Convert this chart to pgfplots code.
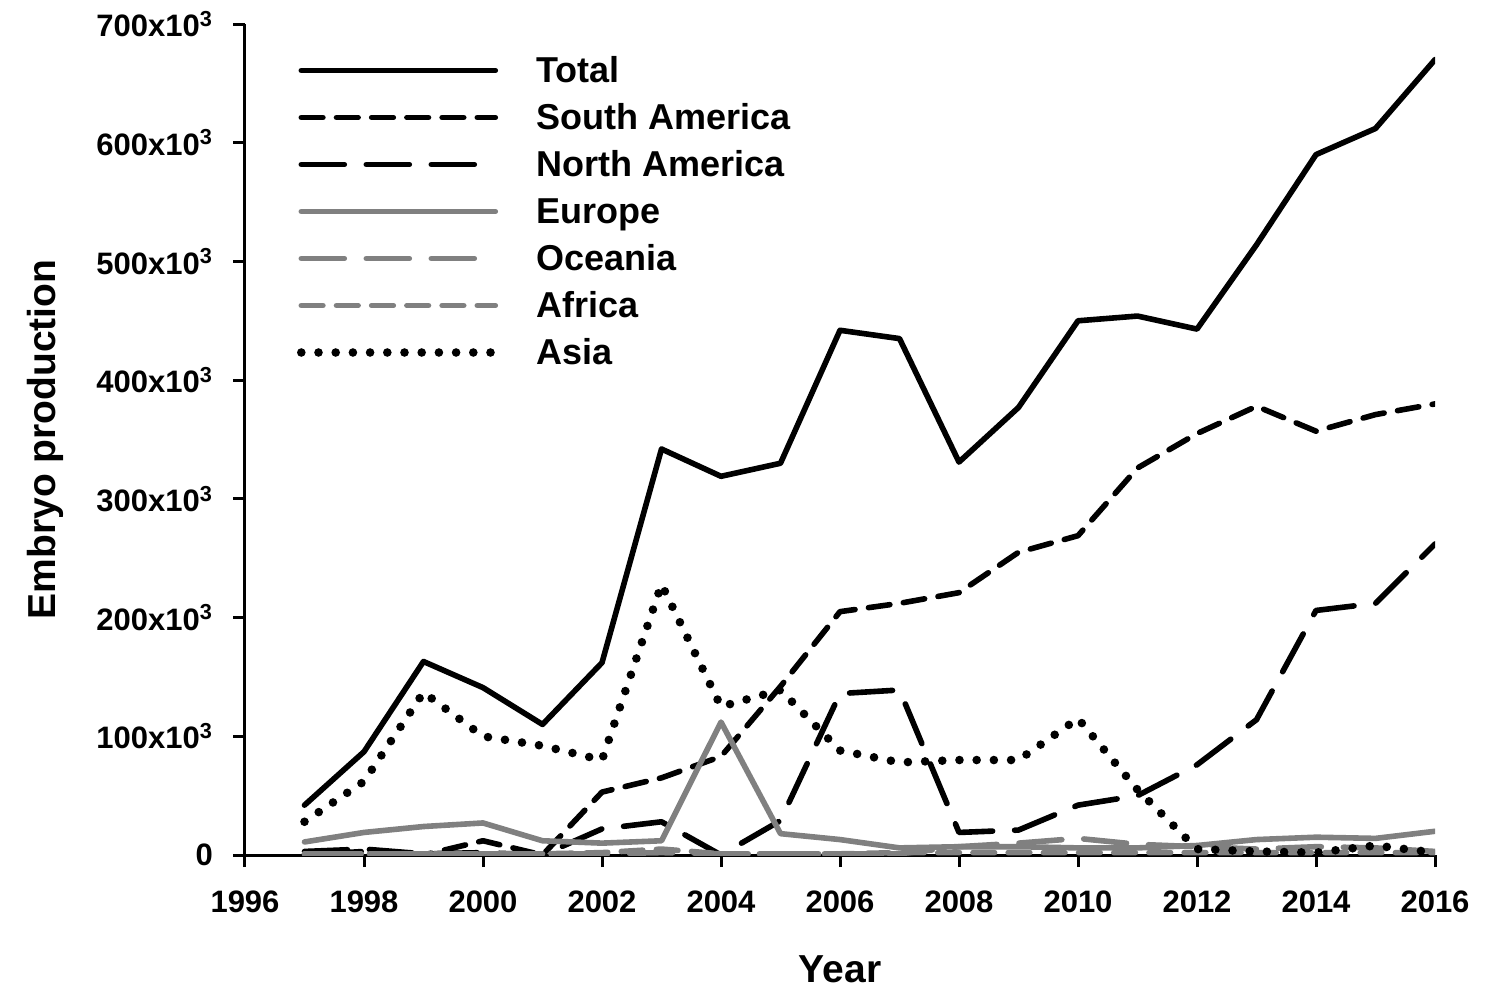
\documentclass[border=0pt]{standalone}
\usepackage{pgfplots}
\pgfplotsset{compat=1.18}
\usepackage{fontspec}
\setmainfont{Liberation Sans}
\definecolor{gr}{HTML}{808080}

\pgfplotstableread{
year total sam nam eur oce afr asia
1997 42 0 3 11 1 1 28
1998 87 3 5 19 1 1 62
1999 163 0 1 24 1 1 137
2000 141 12 2 27 1 1 100
2001 110 0 0 12 1 1 92
2002 162 53 22 10 1 2 80
2003 342 65 28 12 2 5 228
2004 319 83 0 112 1 1 125
2005 330 142 29 18 1 1 139
2006 442 205 136 13 1 1 88
2007 435 212 139 6 1 2 78
2008 331 221 19 7 7 2 80
2009 377 255 21 7 10 2 80
2010 450 269 42 6 14 2 115
2011 454 326 50 6 9 2 55
2012 443 355 76 8 7 2 5
2013 514 378 114 13 5 2 3
2014 590 357 206 15 7 2 2
2015 612 371 212 14 6 2 8
2016 670 380 262 20 3 2 2
}\data

\begin{document}
\begin{tikzpicture}
\begin{axis}[
  name=ax,
  at={(0pt,0pt)}, anchor=south west,
  scale only axis,
  width=595pt, height=415.5pt,
  xmin=1996, xmax=2016, ymin=0, ymax=700,
  axis x line*=bottom, axis y line*=left,
  axis line style={line width=1.5pt},
  tick style={line width=1.5pt, black},
  tick align=outside,
  major tick length=6pt,
  xtick={1996,1998,...,2016},
  xticklabels={1996,1998,2000,2002,2004,2006,2008,2010,2012,2014,2016},
  ytick={0,100,...,700},
  yticklabels={0,100x10\textsuperscript{3},200x10\textsuperscript{3},300x10\textsuperscript{3},400x10\textsuperscript{3},500x10\textsuperscript{3},600x10\textsuperscript{3},700x10\textsuperscript{3}},
  ticklabel style={font=\fontsize{15.5}{18}\selectfont\bfseries},
  xticklabel style={yshift=-8.5pt},
  yticklabel style={xshift=-6.5pt},
  xlabel={Year}, ylabel={Embryo production},
  label style={font=\fontsize{19.5}{23}\selectfont\bfseries},
  xlabel style={at={(axis description cs:0.5,-0.138)}, anchor=center},
  ylabel style={at={(axis description cs:-0.168,0.5)}, anchor=center},
  legend image code/.code={\draw[#1] (0pt,-0.5pt) -- (97pt,-0.5pt);},
  legend style={at={(rel axis cs:0.0437,0.9609)}, anchor=north west, draw=none, fill=none,
    inner sep=0pt, outer sep=0pt, row sep=10.5pt, column sep=18.5pt,
    nodes={inner sep=0pt, text height=13pt, text depth=0pt, font=\fontsize{18}{21}\selectfont\bfseries}},
  legend cell align=left,
  every axis plot/.append style={line width=2.8pt, line join=round, line cap=round},
]
\addplot[black] table[x=year,y=total]{\data};
\addlegendentry{Total}
\addplot[black, dash pattern=on 10.8pt off 6.8pt] table[x=year,y=sam]{\data};
\addlegendentry{South America}
\addplot[black, dash pattern=on 21.5pt off 11pt] table[x=year,y=nam]{\data};
\addlegendentry{North America}
\addplot[gr] table[x=year,y=eur]{\data};
\addlegendentry{Europe}
\addplot[gr, dash pattern=on 21.5pt off 11pt] table[x=year,y=oce]{\data};
\addlegendentry{Oceania}
\addplot[gr, dash pattern=on 10.8pt off 6.8pt] table[x=year,y=afr]{\data};
\addlegendentry{Africa}
\addplot[black, line width=4.3pt, dash pattern=on 0pt off 8.6pt] table[x=year,y=asia]{\data};
\addlegendentry{Asia}
\end{axis}
\pgfresetboundingbox
\path (-122.5pt,-68.5pt) rectangle (620.5pt,427.5pt);
\end{tikzpicture}
\end{document}
